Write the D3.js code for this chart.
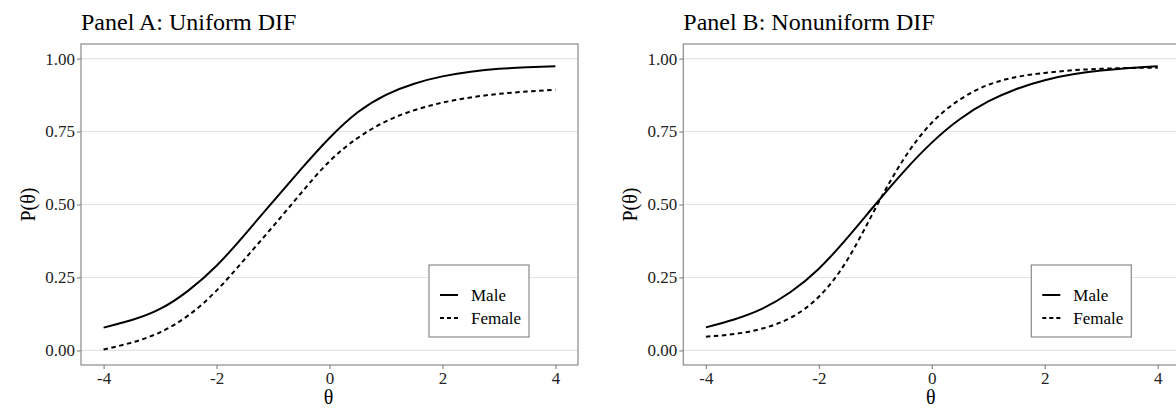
<!DOCTYPE html>
<html>
<head>
<meta charset="utf-8">
<script src="https://cdnjs.cloudflare.com/ajax/libs/d3/7.8.5/d3.min.js"></script>
<style>
  body { margin: 0; background: #fff; }
  svg { display: block; font-family: "Liberation Serif", "DejaVu Serif", serif; }
</style>
</head>
<body>
<svg id="chart" width="1176" height="408"></svg>
<script>
// theta grid the curves were read at
var theta = [-4, -3.5, -3, -2.5, -2, -1.5, -1, -0.5, 0, 0.5, 1, 1.5, 2, 2.5, 3, 3.5, 4];

// Panel A: uniform DIF
var maleA   = [0.078, 0.104, 0.142, 0.205, 0.290, 0.397, 0.510, 0.622, 0.728, 0.816, 0.876, 0.914, 0.939, 0.955, 0.965, 0.970, 0.974];
var femaleA = [0.003, 0.027, 0.062, 0.120, 0.205, 0.313, 0.425, 0.540, 0.648, 0.728, 0.785, 0.823, 0.849, 0.867, 0.879, 0.887, 0.893];

// Panel B: nonuniform DIF
var maleB   = [0.079, 0.106, 0.143, 0.200, 0.280, 0.385, 0.500, 0.612, 0.712, 0.793, 0.853, 0.896, 0.926, 0.946, 0.959, 0.968, 0.974];
var femaleB = [0.047, 0.056, 0.075, 0.112, 0.184, 0.309, 0.486, 0.655, 0.780, 0.860, 0.910, 0.937, 0.951, 0.960, 0.965, 0.968, 0.969];

var xTicks = [-4, -2, 0, 2, 4];
var yTicks = [0, 0.25, 0.5, 0.75, 1];
var groups = ["Male", "Female"];
var titles = ["Panel A: Uniform DIF", "Panel B: Nonuniform DIF"];

var svg = d3.select("#chart");
var fmt = d3.format(".2f");
var serif = "Liberation Serif";

function drawPanel(left, title, male, female) {
    var width = 497, top = 44, height = 321;

    var x = d3.scaleLinear().domain([-4.4, 4.4]).range([0, width]);
    var y = d3.scaleLinear().domain([-0.05, 1.05]).range([height, 0]);

    var g = svg.append("g").attr("transform", "translate(" + left + "," + top + ")");

    // horizontal grid only
    g.selectAll(".grid")
        .data(yTicks)
        .enter().append("line")
        .attr("class", "grid")
        .attr("x1", 0).attr("x2", width)
        .attr("y1", function(d) { return y(d); })
        .attr("y2", function(d) { return y(d); })
        .attr("stroke", "#e3e3e3")
        .attr("stroke-width", 1.1);

    var line = d3.line()
        .x(function(d, i) { return x(theta[i]); })
        .y(function(d) { return y(d); })
        .curve(d3.curveNatural);

    g.append("path")
        .datum(male)
        .attr("d", line)
        .attr("fill", "none")
        .attr("stroke", "#000")
        .attr("stroke-width", 2);

    g.append("path")
        .datum(female)
        .attr("d", line)
        .attr("fill", "none")
        .attr("stroke", "#000")
        .attr("stroke-width", 2)
        .attr("stroke-dasharray", "4.5,3.5");

    // panel border
    g.append("rect")
        .attr("x", 0).attr("y", 0)
        .attr("width", width).attr("height", height)
        .attr("fill", "none")
        .attr("stroke", "#8a8a8a")
        .attr("stroke-width", 1.2);

    var xAxis = g.append("g")
        .attr("transform", "translate(0," + height + ")")
        .call(d3.axisBottom(x).tickValues(xTicks).tickSize(4).tickPadding(3)
            .tickFormat(function(d) { return String(d); }));
    var yAxis = g.append("g")
        .call(d3.axisLeft(y).tickValues(yTicks).tickSize(4).tickPadding(2).tickFormat(fmt));

    [xAxis, yAxis].forEach(function(a) {
        a.attr("font-family", serif).attr("font-size", 17);
        a.select(".domain").remove();
        a.selectAll(".tick line").attr("stroke", "#8a8a8a").attr("stroke-width", 1.2);
        a.selectAll(".tick text").attr("fill", "#222");
    });

    // axis titles
    g.append("text")
        .attr("x", width / 2 - 1)
        .attr("y", height + 39)
        .attr("text-anchor", "middle")
        .style("font-size", "20px")
        .text("\u03b8");

    g.append("text")
        .attr("transform", "translate(" + (-46) + "," + (height / 2) + ") rotate(-90)")
        .attr("text-anchor", "middle")
        .style("font-size", "20px")
        .text("P(\u03b8)");

    // panel title
    svg.append("text")
        .attr("x", left)
        .attr("y", 30)
        .style("font-size", "24px")
        .text(title);

    // legend
    var lg = g.append("g").attr("transform", "translate(" + (width - 149) + ",221)");
    lg.append("rect")
        .attr("width", 100).attr("height", 72)
        .attr("fill", "#fff")
        .attr("stroke", "#8a8a8a")
        .attr("stroke-width", 1.2);

    var item = lg.selectAll(".item")
        .data(groups)
        .enter().append("g")
        .attr("class", "item")
        .attr("transform", function(d, i) { return "translate(0," + (30 + i * 23) + ")"; });

    item.append("line")
        .attr("x1", 11).attr("x2", 29)
        .attr("stroke", "#000")
        .attr("stroke-width", 2)
        .attr("stroke-dasharray", function(d, i) { return i ? "4,3" : null; });

    item.append("text")
        .attr("x", 42)
        .attr("dy", "0.35em")
        .style("font-size", "17px")
        .text(function(d) { return d; });
}

drawPanel(81, titles[0], maleA, femaleA);
drawPanel(683.3, titles[1], maleB, femaleB);
</script>
</body>
</html>
